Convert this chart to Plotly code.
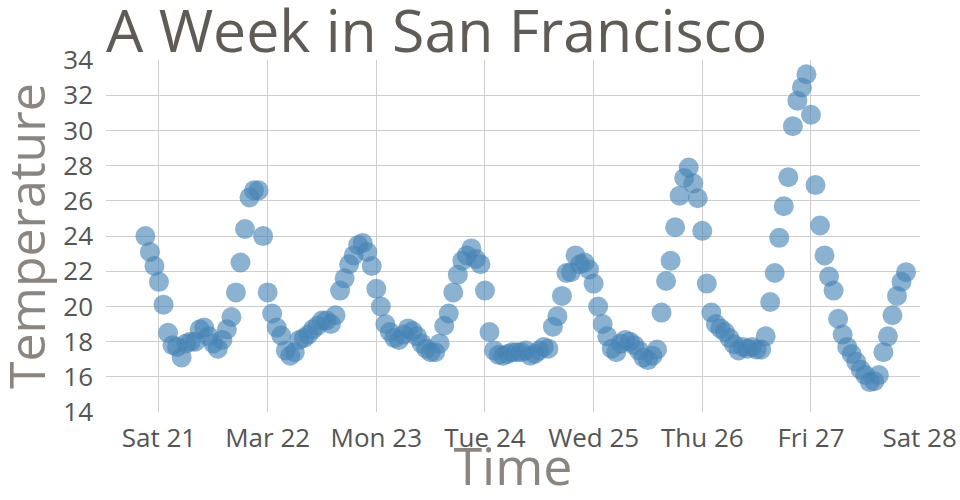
import pandas as pd
import plotly.graph_objects as go

# Hourly temperatures, starting Fri 2015-03-20 21:00
start_time = "2015-03-20 21:00"
temps = [
    24.0, 23.1, 22.3,
    21.4, 20.1, 18.5, 17.8, 17.7, 17.1, 17.9, 18.0, 18.0, 18.7, 18.8, 18.3,
    17.9, 17.6, 18.1, 18.7, 19.4, 20.8, 22.5, 24.4, 26.2, 26.6, 26.6, 24.0,
    20.8, 19.6, 18.8, 18.35, 17.5, 17.2, 17.4, 18.1, 18.2, 18.4, 18.7, 18.9,
    19.2, 19.2, 19.0, 19.5, 20.9, 21.6, 22.4, 22.9, 23.5, 23.6, 23.1, 22.3,
    21.0, 20.0, 19.0, 18.55, 18.2, 18.1, 18.4, 18.75, 18.6, 18.3, 17.9, 17.6,
    17.4, 17.4, 17.9, 18.9, 19.6, 20.8, 21.8, 22.6, 22.9, 23.3, 22.7, 22.4,
    20.9, 18.55, 17.5, 17.25, 17.2, 17.3, 17.4, 17.4, 17.4, 17.5, 17.2, 17.3,
    17.5, 17.7, 17.6, 18.85, 19.45, 20.6, 21.9, 21.95, 22.9, 22.4, 22.5, 22.1,
    21.3, 20.0, 19.0, 18.3, 17.6, 17.4, 17.9, 18.1, 18.0, 17.8, 17.5, 17.1,
    16.95, 17.2, 17.55, 19.65, 21.45, 22.6, 24.5, 26.3, 27.3, 27.9, 27.0, 26.15,
    24.3, 21.3, 19.65, 19.0, 18.75, 18.55, 18.2, 17.85, 17.5, 17.7, 17.6, 17.7,
    17.55, 17.55, 18.3, 20.25, 21.9, 23.9, 25.7, 27.35, 30.25, 31.7, 32.45, 33.2,
    30.9, 26.9, 24.6, 22.9, 21.7, 20.9, 19.3, 18.4, 17.7, 17.3, 16.85, 16.4,
    16.1, 15.7, 15.75, 16.1, 17.4, 18.3, 19.5, 20.6, 21.4, 21.95,
]
times = pd.date_range(start_time, periods=len(temps), freq="h")

tick_dates = ["2015-03-21", "2015-03-22", "2015-03-23", "2015-03-24",
              "2015-03-25", "2015-03-26", "2015-03-27", "2015-03-28"]
tick_labels = ["Sat 21", "Mar 22", "Mon 23", "Tue 24",
               "Wed 25", "Thu 26", "Fri 27", "Sat 28"]
x_range = ["2015-03-20 12:18", "2015-03-28 00:05"]
y_range = [14, 34.01]

FONT = "Open Sans"
GRID = "#cdcdcd"
TITLE_GREY = "#8a8580"

fig = go.Figure(
    go.Scatter(
        x=times, y=temps, mode="markers",
        marker=dict(size=20, color="rgb(70,130,180)", opacity=0.62,
                    line=dict(width=0)),
        hoverinfo="x+y",
    )
)

fig.update_layout(
    width=960, height=500,
    margin=dict(l=106, r=40, t=60, b=88, autoexpand=False),
    paper_bgcolor="white", plot_bgcolor="white",
    font=dict(family=FONT, color="#555555"),
    showlegend=False,
    title=dict(
        text="A Week in San Francisco",
        font=dict(family=FONT, size=59, color="#5f5b57"),
        x=0, xref="paper", xanchor="left",
        y=1, yref="paper", yanchor="bottom",
        pad=dict(b=8, l=0),
    ),
    xaxis=dict(
        range=x_range, tickvals=tick_dates, ticktext=tick_labels,
        showgrid=True, gridcolor=GRID, gridwidth=1,
        zeroline=False, showline=False, ticks="",
        automargin=False, ticklabelstandoff=8,
        tickfont=dict(family=FONT, size=26, color="#555555"),
        title=dict(text="Time", font=dict(family=FONT, size=52, color=TITLE_GREY),
                   standoff=0),
    ),
    yaxis=dict(
        range=y_range, dtick=2, tick0=14,
        showgrid=True, gridcolor=GRID, gridwidth=1,
        zeroline=False, showline=False, ticks="",
        automargin=False, ticklabelstandoff=12,
        tickfont=dict(family=FONT, size=26, color="#555555"),
    ),
    annotations=[dict(
        text="Temperature", textangle=-90, showarrow=False,
        xref="paper", x=0, xanchor="center", xshift=-80,
        yref="paper", y=0.5, yanchor="middle",
        font=dict(family=FONT, size=50, color=TITLE_GREY),
    )],
)

fig.write_html("out.html", config={"displayModeBar": False},
               post_script="document.body.style.margin='0';")
